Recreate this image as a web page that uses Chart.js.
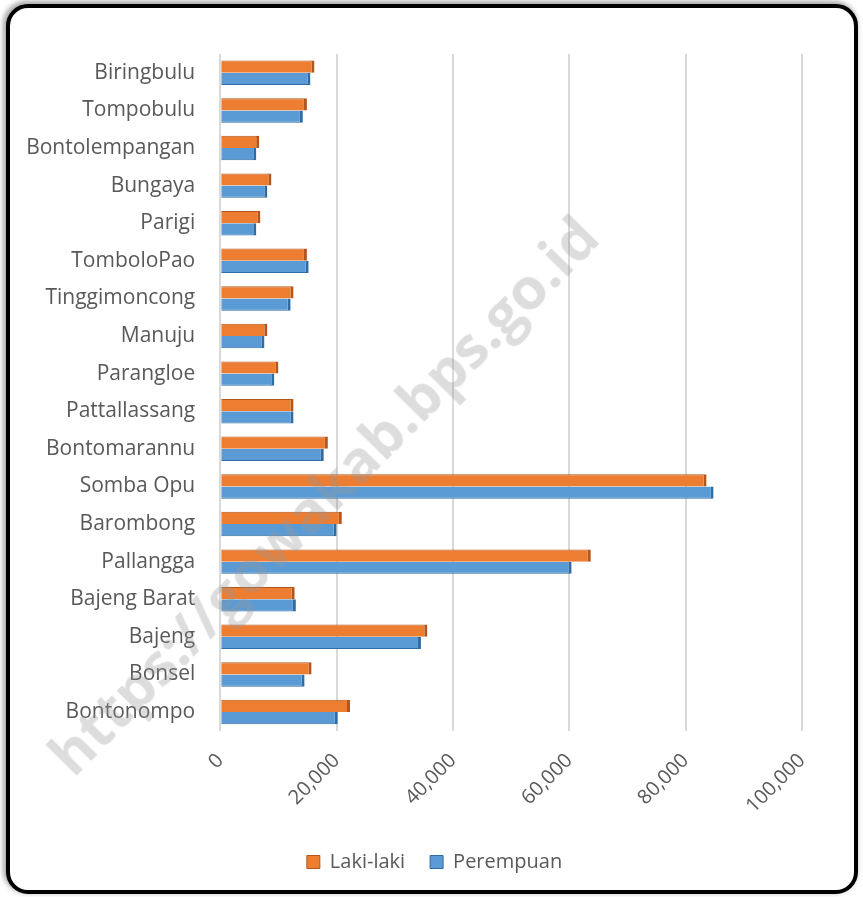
<!DOCTYPE html>
<html>
<head>
<meta charset="utf-8">
<script src="https://cdn.jsdelivr.net/npm/chart.js@4/dist/chart.umd.min.js"></script>
<style>
    html, body { margin: 0; padding: 0; background: #fff; }
    #wrap { position: relative; width: 863px; height: 897px; overflow: hidden; }
    #frame {
        position: absolute; left: 6px; top: 4px; width: 844px; height: 882px;
        border: 4px solid #000; border-radius: 22px; background: #fff;
        box-shadow: -2px -2px 5px 1px rgba(0,0,0,0.35);
    }
    #chart { position: absolute; left: 0; top: 0; }
    #mark {
        position: absolute; left: 322px; top: 494px;
        transform: translate(-50%, -50%) rotate(-45.5deg);
        font: bold 58px "Open Sans", sans-serif; color: rgba(150,150,150,0.32);
        white-space: nowrap; pointer-events: none;
    }
</style>
</head>
<body>
<div id="wrap">
    <div id="frame"></div>
    <canvas id="chart" width="863" height="897"></canvas>
    <div id="mark">https://gowakab.bps.go.id</div>
</div>
<script>
// kecamatan, urut dari atas ke bawah
const kecamatan = ['Biringbulu', 'Tompobulu', 'Bontolempangan', 'Bungaya', 'Parigi', 'TomboloPao',
    'Tinggimoncong', 'Manuju', 'Parangloe', 'Pattallassang', 'Bontomarannu', 'Somba Opu',
    'Barombong', 'Pallangga', 'Bajeng Barat', 'Bajeng', 'Bonsel', 'Bontonompo'];

const lakiLaki = [16200, 14900, 6700, 8800, 6900, 14900, 12600, 8100, 10000, 12600,
    18500, 83600, 20900, 63700, 12800, 35600, 15700, 22300];

const perempuan = [15500, 14200, 6200, 8100, 6200, 15200, 12100, 7600, 9300, 12600,
    17800, 84800, 20000, 60400, 13000, 34500, 14500, 20200];

const sumbuMin = 0;
const sumbuMax = 100000;
const sumbuStep = 20000;

const teks = '#595959';
const huruf = { family: '"Open Sans", sans-serif', size: 20 };
const hurufKategori = { family: '"Open Sans", sans-serif', size: 21 };

const ctx = document.getElementById('chart').getContext('2d');
new Chart(ctx, {
    type: 'bar',
    data: {
        labels: kecamatan,
        datasets: [{
            label: 'Laki-laki',
            data: lakiLaki,
            backgroundColor: '#ED7D31',
            borderColor: '#b4561c',
            borderWidth: { top: 1, right: 3, bottom: 0, left: 0 },
            barPercentage: 1,
            categoryPercentage: 0.65
        }, {
            label: 'Perempuan',
            data: perempuan,
            backgroundColor: '#5B9BD5',
            borderColor: '#2f6ca3',
            borderWidth: { top: 0, right: 3, bottom: 1, left: 0 },
            barPercentage: 1,
            categoryPercentage: 0.65
        }]
    },
    options: {
        indexAxis: 'y',
        responsive: false,
        animation: false,
        devicePixelRatio: 1,
        locale: 'en-US',
        layout: { padding: { left: 6, right: 0, top: 54, bottom: 15 } },
        scales: {
            x: {
                min: sumbuMin,
                max: sumbuMax,
                ticks: {
                    stepSize: sumbuStep,
                    minRotation: 45,
                    maxRotation: 45,
                    padding: 18,
                    color: teks,
                    font: huruf
                },
                grid: { color: '#d9d9d9', lineWidth: 2, drawTicks: false },
                border: { display: false },
                afterFit: (scale) => { scale.height -= 9; }
            },
            y: {
                ticks: { color: teks, font: hurufKategori, padding: 25 },
                grid: { display: false, drawTicks: false },
                border: { display: false }
            },
            // sumbu kosong di kanan, cuma buat ruang kosong
            yKanan: {
                type: 'category',
                position: 'right',
                ticks: { display: false },
                grid: { display: false, drawTicks: false },
                border: { display: false },
                afterFit: (scale) => { scale.width = 61; }
            }
        },
        plugins: {
            legend: {
                position: 'bottom',
                labels: { color: teks, font: huruf, boxWidth: 13, boxHeight: 13, padding: 25 }
            },
            tooltip: { enabled: false }
        }
    }
});
</script>
</body>
</html>
